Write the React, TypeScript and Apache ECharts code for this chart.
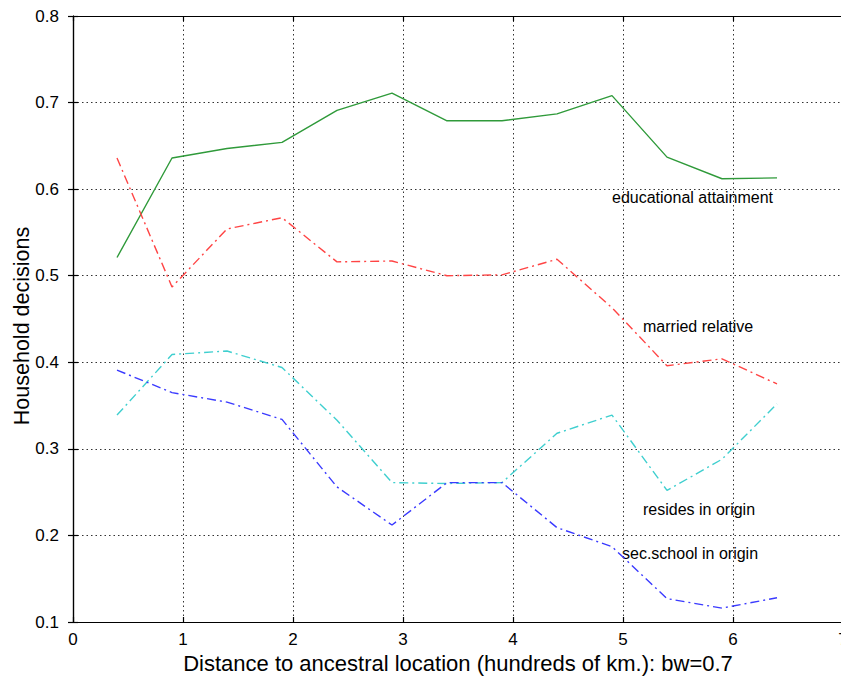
import React, { useEffect, useRef } from "react";
import * as echarts from "echarts";

const xValues = [0.4, 0.9, 1.4, 1.9, 2.4, 2.9, 3.4, 3.9, 4.4, 4.9, 5.4, 5.9, 6.4];
const educational = [0.521, 0.636, 0.647, 0.654, 0.691, 0.711, 0.679, 0.679, 0.687, 0.708, 0.637, 0.612, 0.613];
const married = [0.636, 0.487, 0.554, 0.567, 0.516, 0.517, 0.500, 0.501, 0.519, 0.463, 0.396, 0.404, 0.375];
const resides = [0.339, 0.409, 0.413, 0.394, 0.333, 0.261, 0.260, 0.261, 0.318, 0.339, 0.252, 0.288, 0.352];
const secschool = [0.391, 0.365, 0.354, 0.334, 0.256, 0.212, 0.261, 0.261, 0.209, 0.187, 0.127, 0.116, 0.128];

const seriesNames = ["educational attainment", "married relative", "resides in origin", "sec.school in origin"];
const xTitle = "Distance to ancestral location (hundreds of km.): bw=0.7";
const yTitle = "Household decisions";

const FONT = "'Liberation Sans', Arial, sans-serif";

export default function App() {
  const ref = useRef<HTMLDivElement>(null);
  useEffect(() => {
    if (!ref.current) return;
    const chart = echarts.init(ref.current, undefined, { renderer: "svg" });
    const pair = (ys: number[]) => xValues.map((x, i) => [x, ys[i]]);
    const dashDot = [9, 4, 2, 4];
    const mk = (name: string, ys: number[], color: string, type: any) => ({
      name,
      type: "line",
      data: pair(ys),
      symbol: "none",
      lineStyle: { color, width: 1.4, type },
      z: 3,
    });
    const axisCommon = {
      axisLine: { show: true, lineStyle: { color: "#000", width: 1.2 } },
      axisTick: { show: true, inside: true, length: 5, lineStyle: { color: "#000", width: 1.2 } },
    };
    chart.setOption({
      animation: false,
      backgroundColor: "#fff",
      grid: { left: 73, right: -2, top: 16, bottom: 54, containLabel: false, outerBoundsMode: "none" },
      xAxis: [
        {
          type: "value",
          min: 0,
          max: 7,
          interval: 1,
          position: "bottom",
          ...axisCommon,
          axisLabel: { color: "#000", fontSize: 17, fontFamily: FONT, margin: 9 },
          splitLine: { show: true, lineStyle: { color: "#333", type: [1.5, 3], width: 1 } },
          name: xTitle,
          nameLocation: "middle",
          nameGap: 26,
          nameTextStyle: { color: "#000", fontSize: 22, fontFamily: FONT },
        },
        {
          type: "value",
          min: 0,
          max: 7,
          interval: 1,
          position: "top",
          ...axisCommon,
          axisLabel: { show: false },
          splitLine: { show: false },
        },
      ],
      yAxis: [
        {
          type: "value",
          min: 0.1,
          max: 0.8,
          interval: 0.1,
          position: "left",
          ...axisCommon,
          axisLabel: {
            color: "#000",
            fontSize: 17,
            fontFamily: FONT,
            margin: 14,
            formatter: (v: number) => v.toFixed(1),
          },
          splitLine: { show: true, lineStyle: { color: "#333", type: [1.5, 3], width: 1 } },
        },
        {
          type: "value",
          min: 0.1,
          max: 0.8,
          interval: 0.1,
          position: "right",
          ...axisCommon,
          axisLabel: { show: false },
          splitLine: { show: false },
        },
      ],
      series: [
        mk(seriesNames[0], educational, "#2f9a3a", "solid"),
        mk(seriesNames[1], married, "#ff4444", dashDot),
        mk(seriesNames[2], resides, "#3fcfcf", dashDot),
        mk(seriesNames[3], secschool, "#3a3aff", dashDot),
      ],
      graphic: [
        {
          type: "text",
          x: 22,
          y: 326,
          rotation: Math.PI / 2,
          style: {
            text: yTitle,
            font: `21.5px ${FONT}`,
            fill: "#000",
            textAlign: "center",
            textVerticalAlign: "middle",
          },
        },
        { type: "text", x: 612, y: 189, style: { text: seriesNames[0], font: `16px ${FONT}`, fill: "#000" } },
        { type: "text", x: 643, y: 318, style: { text: seriesNames[1], font: `16px ${FONT}`, fill: "#000" } },
        { type: "text", x: 643, y: 501, style: { text: seriesNames[2], font: `16px ${FONT}`, fill: "#000" } },
        { type: "text", x: 622, y: 545, style: { text: seriesNames[3], font: `16px ${FONT}`, fill: "#000" } },
      ],
    });
    return () => chart.dispose();
  }, []);
  return <div ref={ref} style={{ width: 841, height: 676, position: "absolute", left: 0, top: 0 }} />;
}
